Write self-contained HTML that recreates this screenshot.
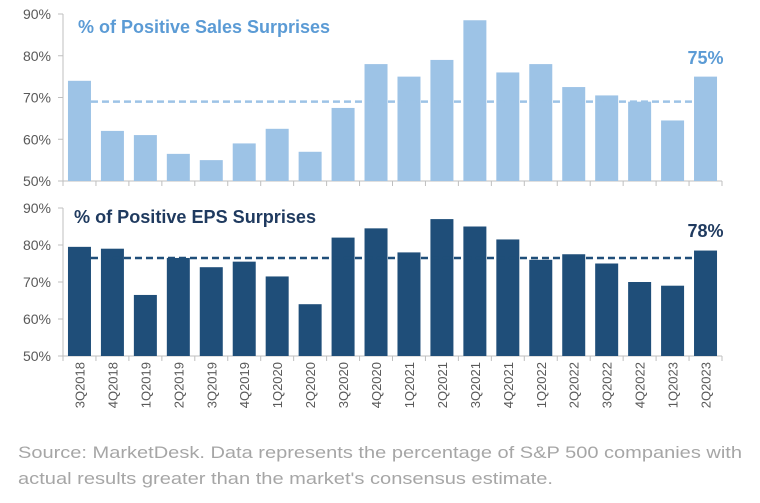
<!DOCTYPE html>
<html><head><meta charset="utf-8"><style>
body{margin:0;background:#fff;width:760px;height:498px;overflow:hidden;font-family:"Liberation Sans",sans-serif}
</style></head><body>
<svg id="c" width="760" height="498" xmlns="http://www.w3.org/2000/svg"></svg>
<script>
const categories=["3Q2018","4Q2018","1Q2019","2Q2019","3Q2019","4Q2019","1Q2020","2Q2020","3Q2020","4Q2020","1Q2021","2Q2021","3Q2021","4Q2021","1Q2022","2Q2022","3Q2022","4Q2022","1Q2023","2Q2023"];
const salesValues=[74,62,61,56.5,55,59,62.5,57,67.5,78,75,79,88.5,76,78,72.5,70.5,69,64.5,75];
const epsValues=[79.5,79,66.5,76.5,74,75.5,71.5,64,82,84.5,78,87,85,81.5,76,77.5,75,70,69,78.5];
const salesAvg=[69];
const epsAvg=[76.5];
const tickLabels=["50%","60%","70%","80%","90%"];
const tickValues=[50,60,70,80,90];
const svg=document.getElementById('c');
const NS="http://www.w3.org/2000/svg";
function mk(t,a,txt){const e=document.createElementNS(NS,t);for(const k in a)e.setAttribute(k,a[k]);if(txt!==undefined)e.textContent=txt;svg.appendChild(e);return e;}
const x0=63,pitch=32.95;
function xC(i){return x0+pitch*(i+0.5);}
function panel(vals,avg,top,bot,color,lineColor,title,titleColor,titleX,titleY,titleW,lbl,lblY,name){
  const y=v=>bot-(v-50)/40*(bot-top);
  let e=mk('line',{x1:x0,y1:top,x2:x0,y2:bot,stroke:'#bfbfbf','stroke-width':1});
  
  e=mk('line',{x1:x0,y1:bot,x2:x0+pitch*vals.length,y2:bot,stroke:'#bfbfbf','stroke-width':1});
  
  tickValues.forEach((v,i)=>{
    let t=mk('line',{x1:x0-5,y1:y(v),x2:x0,y2:y(v),stroke:'#bfbfbf'});
    
    t=mk('text',{x:x0-12,y:y(v)+5,'text-anchor':'end','font-size':14,fill:'#595959'},tickLabels[i]);
    
  });
  for(let i=0;i<=vals.length;i++){
    const t=mk('line',{x1:x0+pitch*i,y1:bot,x2:x0+pitch*i,y2:bot+5,stroke:'#bfbfbf'});
    
  }
  vals.forEach((v,i)=>{
    const b=mk('rect',{x:xC(i)-11.5,y:y(v),width:23,height:bot-y(v),fill:color});
    
  });
  e=mk('line',{x1:xC(0)+11.5,y1:y(avg[0]),x2:xC(vals.length-1)-11.5,y2:y(avg[0]),stroke:lineColor,'stroke-width':2.5,'stroke-dasharray':'7,4'});
  
  e=mk('text',{x:titleX,y:titleY,'font-size':18,'font-weight':'bold',fill:titleColor,textLength:titleW,lengthAdjust:'spacingAndGlyphs'},title);
  
  e=mk('text',{x:xC(vals.length-1),y:lblY,'text-anchor':'middle','font-size':18,'font-weight':'bold',fill:titleColor},lbl);
  
}
panel(salesValues,salesAvg,14,181,'#9dc3e6','#9dc3e6','% of Positive Sales Surprises','#5b9bd5',78,33,252,'75%',64,'sales');
panel(epsValues,epsAvg,208,356,'#1f4e79','#1f4e79','% of Positive EPS Surprises','#1f3a5f',74,223,242,'78%',237,'eps');
categories.forEach((c,i)=>{
  const t=mk('text',{x:0,y:0,'font-size':13,fill:'#595959','text-anchor':'end',transform:`translate(${xC(i)+5},362) rotate(-90)`},c);
  
});
let s=mk('text',{x:18,y:458,'font-size':17,fill:'#a6a6a6',textLength:724,lengthAdjust:'spacingAndGlyphs'},"Source: MarketDesk. Data represents the percentage of S&P 500 companies with");

s=mk('text',{x:18,y:484,'font-size':17,fill:'#a6a6a6',textLength:535,lengthAdjust:'spacingAndGlyphs'},"actual results greater than the market's consensus estimate.");

</script>
</body></html>
